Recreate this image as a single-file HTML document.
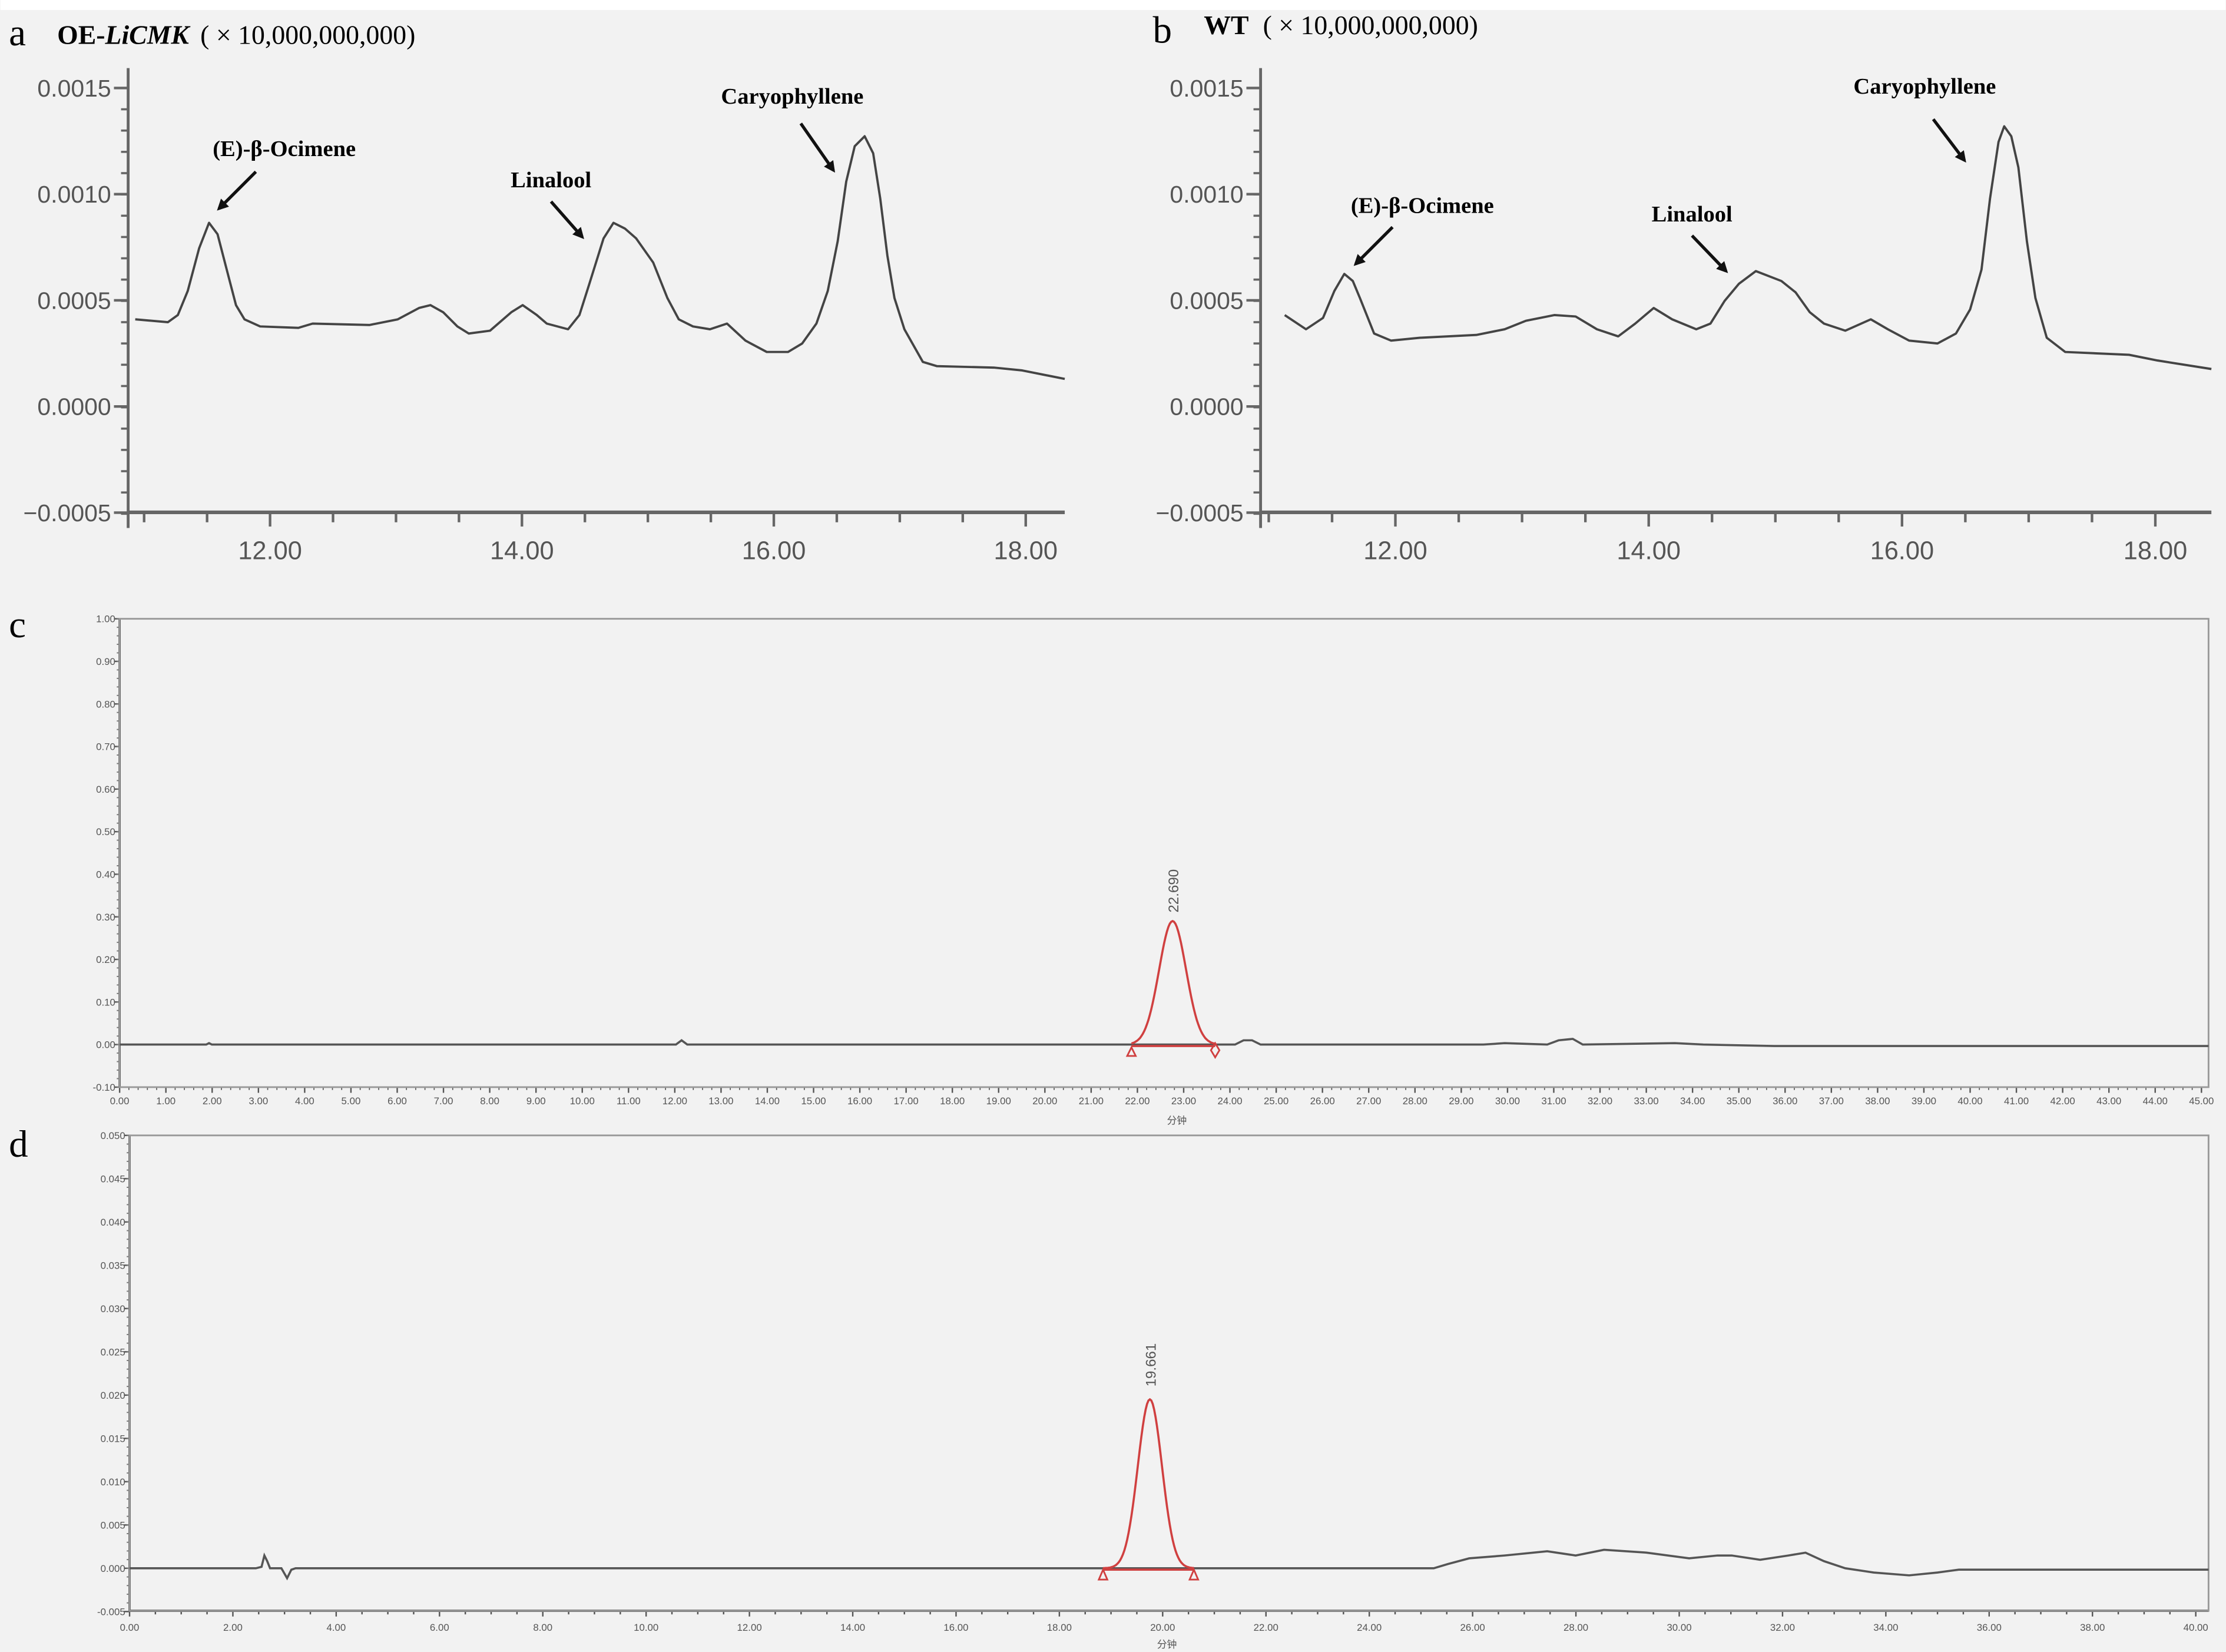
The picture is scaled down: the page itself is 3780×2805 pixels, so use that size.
<!DOCTYPE html>
<html><head><meta charset="utf-8"><style>
html,body{margin:0;padding:0;background:#f2f2f2;}
svg{display:block;}
.tk{font-family:"Liberation Sans",Arial,sans-serif;fill:#555;}
.ser{font-family:"Liberation Serif","Times New Roman",serif;}
</style></head><body>
<svg id="s" width="3780" height="2805" viewBox="0 0 1568 1164" xmlns="http://www.w3.org/2000/svg">
<rect x="0" y="0" width="1568" height="1164" fill="#f2f2f2"/>
<rect x="0" y="0" width="1568" height="7" fill="#ffffff"/>
<g id="g"></g>
<text x="6" y="32" class="ser" font-size="27" fill="#000">a</text>
<text x="40" y="31" class="ser" font-size="19" font-weight="bold" fill="#000">OE-<tspan font-style="italic">LiCMK</tspan><tspan font-weight="normal" dx="8">( × 10,000,000,000)</tspan></text>
<polyline fill="none" stroke="#444" stroke-width="1.6" stroke-linejoin="round" points="95,225 118,227 125,222 132,205 140,175 147,157 153,165 160,192 166,215 172,225 183,230 210,231 220,228 260,229 280,225 295,217 303,215 312,220 322,230 330,235 345,233 360,220 368,215 378,222 385,228 400,232 408,222 415,200 425,168 432,157 440,161 448,168 460,185 470,210 478,225 488,230 500,232 512,228 525,240 540,248 555,248 565,242 575,228 583,205 590,170 596,128 602,103 609,96 615,108 620,140 625,180 630,210 637,232 650,255 660,258 700,259 720,261 750,267"/>
<text x="200" y="110" class="ser" font-size="16" font-weight="bold" text-anchor="middle">(E)-β-Ocimene</text>
<text x="388" y="132" class="ser" font-size="16" font-weight="bold" text-anchor="middle">Linalool</text>
<text x="558" y="73" class="ser" font-size="16" font-weight="bold" text-anchor="middle">Caryophyllene</text>
<text x="812" y="30" class="ser" font-size="27" fill="#000">b</text>
<text x="848" y="24" class="ser" font-size="19" font-weight="bold" fill="#000">WT<tspan font-weight="normal" dx="10">( × 10,000,000,000)</tspan></text>
<polyline fill="none" stroke="#444" stroke-width="1.6" stroke-linejoin="round" points="905,222 920,232 932,224 940,205 947,193 953,198 958,210 968,235 980,240 1000,238 1040,236 1060,232 1075,226 1095,222 1110,223 1125,232 1140,237 1152,228 1165,217 1178,225 1195,232 1205,228 1215,212 1225,200 1237,191 1255,198 1265,206 1275,220 1285,228 1300,233 1318,225 1330,232 1345,240 1365,242 1378,235 1388,218 1396,190 1402,140 1408,100 1412,89 1417,96 1422,118 1428,170 1434,210 1442,238 1455,248 1500,250 1520,254 1558,260"/>
<text x="1002" y="150" class="ser" font-size="16" font-weight="bold" text-anchor="middle">(E)-β-Ocimene</text>
<text x="1192" y="156" class="ser" font-size="16" font-weight="bold" text-anchor="middle">Linalool</text>
<text x="1356" y="66" class="ser" font-size="16" font-weight="bold" text-anchor="middle">Caryophyllene</text>
<defs><marker id="ar" markerWidth="8" markerHeight="8" refX="6" refY="4" orient="auto" markerUnits="userSpaceOnUse"><path d="M0,0 L8,4 L0,8 Z" fill="#111"/></marker></defs>
<g stroke="#111" stroke-width="2.2" marker-end="url(#ar)">
<line x1="180" y1="121" x2="154" y2="147"/>
<line x1="388" y1="142" x2="410" y2="167"/>
<line x1="564" y1="87" x2="587" y2="120"/>
<line x1="981" y1="160" x2="955" y2="186"/>
<line x1="1192" y1="166" x2="1216" y2="191"/>
<line x1="1362" y1="84" x2="1384" y2="113"/>
</g>
<text x="6" y="449" class="ser" font-size="27">c</text>
<rect x="84" y="436" width="1472" height="330" fill="none" stroke="#999" stroke-width="1.2"/>
<polyline fill="none" stroke="#555" stroke-width="1.5" points="84,736 145,736 147,735 149,736 476,736 480,733 484,736 870,736 876,733 882,733 888,736 1045,736 1060,735 1090,736 1098,733 1108,732 1115,736 1180,735 1200,736 1250,737 1556,737"/>
<path id="pc" fill="none" stroke="#d04040" stroke-width="1.5"/>
<line x1="797" y1="737" x2="856" y2="737" stroke="#d04040" stroke-width="1.5"/>
<path d="M797,738 l-3,6 h6 z" fill="none" stroke="#d04040" stroke-width="1.2"/>
<path d="M856,735 l-3,5 l3,5 l3,-5 z" fill="none" stroke="#d04040" stroke-width="1.2"/>
<text transform="translate(830,643) rotate(-90)" class="tk" font-size="10">22.690</text>
<text x="822" y="792" class="tk" font-size="7">分钟</text>
<text x="6" y="815" class="ser" font-size="27">d</text>
<rect x="91" y="800" width="1465" height="335" fill="none" stroke="#999" stroke-width="1.2"/>
<polyline fill="none" stroke="#555" stroke-width="1.5" points="91,1105 180,1105 184,1104 186,1096 188,1100 190,1105 198,1105 202,1112 205,1106 208,1105 1010,1105 1020,1102 1035,1098 1060,1096 1090,1093 1110,1096 1130,1092 1160,1094 1190,1098 1210,1096 1220,1096 1240,1099 1260,1096 1272,1094 1285,1100 1300,1105 1320,1108 1345,1110 1365,1108 1380,1106 1556,1106"/>
<path id="pd" fill="none" stroke="#d04040" stroke-width="1.5"/>
<line x1="777" y1="1106" x2="841" y2="1106" stroke="#d04040" stroke-width="1.5"/>
<path d="M777,1106 l-3,7 h6 z" fill="none" stroke="#d04040" stroke-width="1.2"/>
<path d="M841,1106 l-3,7 h6 z" fill="none" stroke="#d04040" stroke-width="1.2"/>
<text transform="translate(814,977) rotate(-90)" class="tk" font-size="10">19.661</text>
<text x="815" y="1161" class="tk" font-size="7">分钟</text>
</svg>
<script>
var NS="http://www.w3.org/2000/svg",g=document.getElementById("g");
function L(x1,y1,x2,y2,c,w){var e=document.createElementNS(NS,"line");e.setAttribute("x1",x1);e.setAttribute("y1",y1);e.setAttribute("x2",x2);e.setAttribute("y2",y2);e.setAttribute("stroke",c||"#555");e.setAttribute("stroke-width",w||1.2);g.appendChild(e);}
function T(x,y,s,fs,a){var e=document.createElementNS(NS,"text");e.setAttribute("x",x);e.setAttribute("y",y);e.setAttribute("class","tk");e.setAttribute("font-size",fs);e.setAttribute("text-anchor",a||"middle");e.textContent=s;g.appendChild(e);}
[[90,750,190],[888,1558,983]].forEach(function(p){
 var ax=p[0],r=p[1],x12=p[2],pm=(p[0]==90?88.75:89.25);
 L(ax,48,ax,372,"#666",2);L(ax,361,r,361,"#666",2.5);
 var labs=["0.0015","0.0010","0.0005","0.0000","-0.0005"];
 for(var i=0;i<5;i++){var y=62+i*74.8;L(ax-10,y,ax,y,"#666",1.8);T(ax-12,y+6,labs[i].replace("-","−"),17,"end");}
 for(var v=48;v<361;v+=15){L(ax-5,v+14,ax,v+14,"#666",1.5);}
 for(var k=22;k<=37;k++){var m=k/2;var x=x12+(m-12)*pm;if(x<=ax+2||x>r)continue;var maj=(k%4==0);L(x,361,x,361+(maj?10:7),"#666",1.8);if(maj)T(x,394,m.toFixed(2),18);}
});
(function(){var ax=84,y0=736;L(ax,436,ax,766,"#111",1.5);
 for(var i=-1;i<=10;i++){var y=y0-i*30;L(ax-4,y,ax,y,"#555",1);T(ax-3,y+2.5,(i/10).toFixed(2),7,"end");}
 for(var y=436;y<=766;y+=6)L(ax-2,y,ax,y,"#777",0.8);
 for(var k=0;k<=225;k++){var m=k/5;var x=ax+m*32.6;var maj=(k%5==0);L(x,766,x,766+(maj?4:2),"#555",maj?1:0.7);if(maj)T(x,778,(k/5).toFixed(2),7);}
 var d="";for(var x=797;x<=856;x+=1){var y=y0-87*Math.exp(-Math.pow((x-826)/9.5,2)/2);d+=(d?"L":"M")+x+","+y.toFixed(1);}document.getElementById("pc").setAttribute("d",d);
})();
(function(){var ax=91,y0=1105;L(ax,800,ax,1135,"#111",1.5);
 for(var i=-1;i<=10;i++){var y=y0-i*30.5;L(ax-4,y,ax,y,"#555",1);T(ax-3,y+2.5,(i*0.005).toFixed(3),7,"end");}
 for(var y=800;y<=1135;y+=6.1)L(ax-2,y,ax,y,"#777",0.8);
 L(ax,1135,1556,1135,"#111",1.5);
 for(var k=0;k<=80;k++){var m=k/2;var x=ax+m*36.4;var maj=(k%4==0);L(x,1135,x,1135+(maj?4:2.5),"#555",1);if(maj)T(x,1149,m.toFixed(2),7);}
 var d="";for(var x=777;x<=841;x+=1){var y=y0-119*Math.exp(-Math.pow((x-810)/8.5,2)/2);d+=(d?"L":"M")+x+","+y.toFixed(1);}document.getElementById("pd").setAttribute("d",d);
})();
</script>
</body></html>
